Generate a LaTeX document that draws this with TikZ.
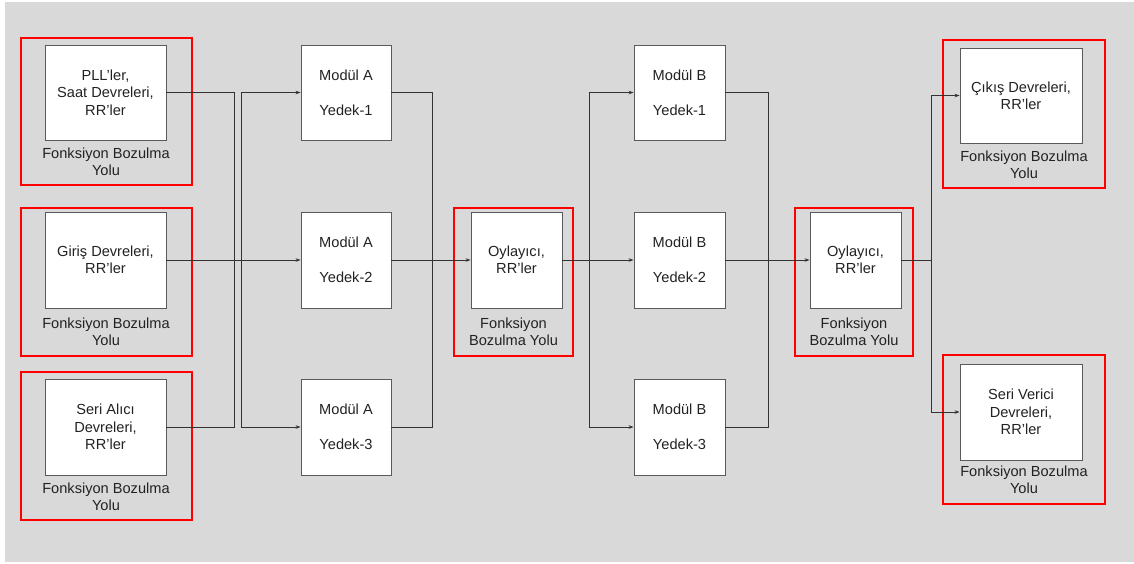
\documentclass[tikz,border=0pt]{standalone}
\usepackage{fontspec}
\setmainfont{Liberation Sans}
\usetikzlibrary{arrows.meta}
\definecolor{bggrey}{HTML}{D9D9D9}
\definecolor{edgegrey}{HTML}{5A5A5A}
\definecolor{wire}{HTML}{333333}
\definecolor{ink}{HTML}{222222}
\definecolor{frame}{HTML}{FF0000}
\begin{document}
\begin{tikzpicture}[x=1pt,y=-1pt,
  txt/.style={font=\fontsize{14.6}{17.3}\selectfont, text=ink, align=center},
  blk/.style={txt, rectangle, draw=edgegrey, fill=white, line width=0.9pt, inner sep=0pt},
  redframe/.style={rectangle, draw=frame, line width=2pt, inner sep=0pt},
  lbl/.style={txt, inner sep=0pt},
  wireline/.style={draw=wire, line width=0.8pt},
  feed/.style={wireline, -{Stealth[length=5pt,width=3.6pt]}}]

\useasboundingbox (0,0) rectangle (1134,563);
\fill[white] (0,0) rectangle (1134,563);
\fill[bggrey] (5,2) rectangle (1134,562);

% red fault-path frames
\node[redframe, minimum width=171pt, minimum height=147pt] (f1) at (106.5,111.5) {};
\node[redframe, minimum width=171pt, minimum height=148pt] (f2) at (106.5,282) {};
\node[redframe, minimum width=171pt, minimum height=148pt] (f3) at (106.5,446) {};
\node[redframe, minimum width=119pt, minimum height=148pt] (fv1) at (513.5,282) {};
\node[redframe, minimum width=118pt, minimum height=148pt] (fv2) at (854,282) {};
\node[redframe, minimum width=162pt, minimum height=148pt] (fo1) at (1024,114) {};
\node[redframe, minimum width=162pt, minimum height=149pt] (fo2) at (1024,429.5) {};

% input blocks
\node[blk, minimum width=121pt, minimum height=95pt] (pll) at (105.5,92.5) {PLL’ler,\\Saat Devreleri,\\RR’ler};
\node[blk, minimum width=121pt, minimum height=96pt] (giris) at (105.5,260) {Giriş Devreleri,\\RR’ler};
\node[blk, minimum width=121pt, minimum height=96pt] (alici) at (105.5,427) {Seri Alıcı\\Devreleri,\\RR’ler};

% redundant module A
\node[blk, minimum width=90pt, minimum height=95pt] (a1) at (346,92.5) {Modül A\\[17.3pt]Yedek-1};
\node[blk, minimum width=90pt, minimum height=96pt] (a2) at (346,260) {Modül A\\[17.3pt]Yedek-2};
\node[blk, minimum width=90pt, minimum height=96pt] (a3) at (346,427) {Modül A\\[17.3pt]Yedek-3};

% first voter
\node[blk, minimum width=91pt, minimum height=96pt] (v1) at (516.5,260) {Oylayıcı,\\RR’ler};

% redundant module B
\node[blk, minimum width=91pt, minimum height=95pt] (b1) at (679.5,92.5) {Modül B\\[17.3pt]Yedek-1};
\node[blk, minimum width=91pt, minimum height=96pt] (b2) at (679.5,260) {Modül B\\[17.3pt]Yedek-2};
\node[blk, minimum width=91pt, minimum height=96pt] (b3) at (679.5,427) {Modül B\\[17.3pt]Yedek-3};

% second voter
\node[blk, minimum width=91pt, minimum height=96pt] (v2) at (855.5,260) {Oylayıcı,\\RR’ler};

% output blocks
\node[blk, minimum width=122pt, minimum height=95pt] (cikis) at (1021,95.5) {Çıkış Devreleri,\\RR’ler};
\node[blk, minimum width=122pt, minimum height=96pt] (verici) at (1021,412) {Seri Verici\\Devreleri,\\RR’ler};

% frame captions
\node[lbl] (l1) at (106,162) {Fonksiyon Bozulma\\Yolu};
\node[lbl] (l2) at (106,332) {Fonksiyon Bozulma\\Yolu};
\node[lbl] (l3) at (106,496.5) {Fonksiyon Bozulma\\Yolu};
\node[lbl] (lv1) at (513.5,332) {Fonksiyon\\Bozulma Yolu};
\node[lbl] (lv2) at (854,332) {Fonksiyon\\Bozulma Yolu};
\node[lbl] (lo1) at (1024,164.5) {Fonksiyon Bozulma\\Yolu};
\node[lbl] (lo2) at (1024,479.5) {Fonksiyon Bozulma\\Yolu};

% bus corners
\coordinate (inT) at (234,92.5);  \coordinate (inB) at (234,427);
\coordinate (daT) at (241,92.5);  \coordinate (daB) at (241,427);
\coordinate (caT) at (432,92.5);  \coordinate (caB) at (432,427);
\coordinate (dbT) at (589,92.5);  \coordinate (dbB) at (589,427);
\coordinate (cbT) at (768,92.5);  \coordinate (cbB) at (768,427);
\coordinate (oT) at (931,95.5);   \coordinate (oB) at (931,412);
\coordinate (oM) at (931,260);

% input collection and distribution to module A
\draw[wireline] (pll.east) -- (inT) -- (inB) -- (alici.east);
\draw[wireline] (daT) -- (daB);
\draw[feed] (daT) -- (a1.west);
\draw[feed] (daB) -- (a3.west);
\draw[feed] (giris.east) -- (a2.west);

% module A to first voter
\draw[wireline] (a1.east) -- (caT) -- (caB) -- (a3.east);
\draw[feed] (a2.east) -- (v1.west);

% first voter to module B
\draw[wireline] (dbT) -- (dbB);
\draw[feed] (dbT) -- (b1.west);
\draw[feed] (dbB) -- (b3.west);
\draw[feed] (v1.east) -- (b2.west);

% module B to second voter
\draw[wireline] (b1.east) -- (cbT) -- (cbB) -- (b3.east);
\draw[feed] (b2.east) -- (v2.west);

% second voter to outputs
\draw[wireline] (v2.east) -- (oM);
\draw[wireline] (oT) -- (oB);
\draw[feed] (oT) -- (cikis.west);
\draw[feed] (oB) -- (verici.west);
\end{tikzpicture}
\end{document}
